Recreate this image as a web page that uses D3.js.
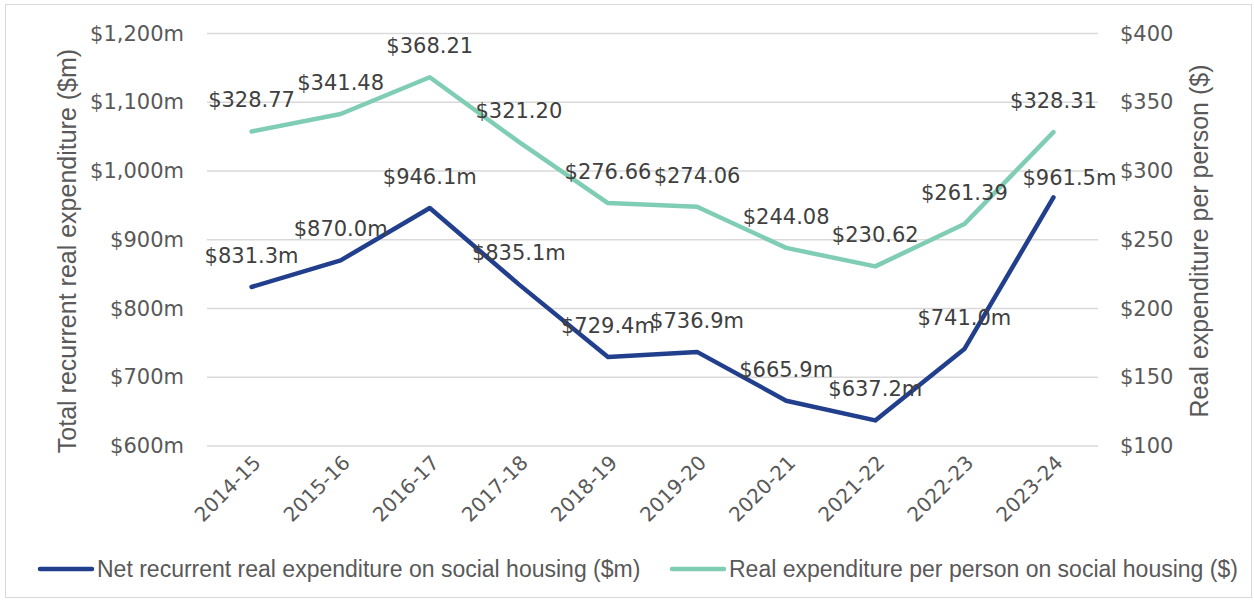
<!DOCTYPE html>
<html>
<head>
<meta charset="utf-8">
<script src="https://cdn.jsdelivr.net/npm/d3@7"></script>
<style>
  body { margin: 0; background: #fff; }
  svg { display: block; }
</style>
</head>
<body>
<script>
const years = ["2014-15", "2015-16", "2016-17", "2017-18", "2018-19",
  "2019-20", "2020-21", "2021-22", "2022-23", "2023-24"];
const netExpenditure = [831.3, 870.0, 946.1, 835.1, 729.4, 736.9, 665.9, 637.2, 741.0, 961.5];
const perPerson = [328.77, 341.48, 368.21, 321.20, 276.66, 274.06, 244.08, 230.62, 261.39, 328.31];
const leftTicks = [600, 700, 800, 900, 1000, 1100, 1200];
const rightTicks = [100, 150, 200, 250, 300, 350, 400];
const seriesNames = [
  "Net recurrent real expenditure on social housing ($m)",
  "Real expenditure per person on social housing ($)"
];

const W = 1254, H = 602;
const plot = { left: 207, right: 1098, top: 33.5, bottom: 446 };
const blue = "#213f8c", green = "#80cdb5";
const numFont = "DejaVu Sans";
const textFont = "Liberation Sans";

const svg = d3.select("body").append("svg")
  .attr("width", W)
  .attr("height", H);

svg.append("rect")
  .attr("x", 5.5).attr("y", 4.5)
  .attr("width", W - 8).attr("height", H - 9)
  .attr("fill", "#fff")
  .attr("stroke", "#d9d9d9");

const x = d3.scalePoint()
  .domain(years)
  .range([plot.left, plot.right])
  .padding(0.5);

const yL = d3.scaleLinear().domain([600, 1200]).range([plot.bottom, plot.top]);
const yR = d3.scaleLinear().domain([100, 400]).range([plot.bottom, plot.top]);

// gridlines
svg.append("g")
  .selectAll("line")
  .data(leftTicks)
  .join("line")
  .attr("x1", plot.left).attr("x2", plot.right)
  .attr("y1", (d) => yL(d)).attr("y2", (d) => yL(d))
  .attr("stroke", "#d9d9d9")
  .attr("stroke-width", 1.5);

// left axis
const leftAxis = svg.append("g")
  .attr("transform", `translate(${plot.left},0)`)
  .call(d3.axisLeft(yL).tickValues(leftTicks)
    .tickSize(0).tickPadding(23)
    .tickFormat((d) => "$" + d3.format(",")(d) + "m"));
leftAxis.select(".domain").remove();
leftAxis.selectAll("text")
  .attr("font-family", numFont).attr("font-size", 21)
  .attr("fill", "#595959");

// right axis
const rightAxis = svg.append("g")
  .attr("transform", `translate(${plot.right},0)`)
  .call(d3.axisRight(yR).tickValues(rightTicks)
    .tickSize(0).tickPadding(22)
    .tickFormat((d) => "$" + d));
rightAxis.select(".domain").remove();
rightAxis.selectAll("text")
  .attr("font-family", numFont).attr("font-size", 21)
  .attr("fill", "#595959");

// x axis
const xAxis = svg.append("g")
  .attr("transform", `translate(0,${plot.bottom})`)
  .call(d3.axisBottom(x).tickSize(0).tickPadding(0));
xAxis.select(".domain").remove();
xAxis.selectAll("text")
  .attr("font-family", numFont).attr("font-size", 20)
  .attr("fill", "#595959")
  .attr("text-anchor", "end")
  .attr("dy", 0)
  .attr("transform", "translate(10,18) rotate(-45)");

// axis titles
svg.append("text")
  .attr("transform", `translate(76,251) rotate(-90)`)
  .attr("text-anchor", "middle")
  .attr("font-family", textFont).attr("font-size", 25)
  .attr("fill", "#595959")
  .text("Total recurrent real expenditure ($m)");

svg.append("text")
  .attr("transform", `translate(1208,241) rotate(-90)`)
  .attr("text-anchor", "middle")
  .attr("font-family", textFont).attr("font-size", 25)
  .attr("fill", "#595959")
  .text("Real expenditure per person ($)");

// lines
const lineL = d3.line().x((d, i) => x(years[i])).y((d) => yL(d));
const lineR = d3.line().x((d, i) => x(years[i])).y((d) => yR(d));

svg.append("path")
  .datum(perPerson)
  .attr("d", lineR)
  .attr("fill", "none")
  .attr("stroke", green)
  .attr("stroke-width", 4.5)
  .attr("stroke-linejoin", "round")
  .attr("stroke-linecap", "round");

svg.append("path")
  .datum(netExpenditure)
  .attr("d", lineL)
  .attr("fill", "none")
  .attr("stroke", blue)
  .attr("stroke-width", 4.5)
  .attr("stroke-linejoin", "round")
  .attr("stroke-linecap", "round");

// data labels (last blue label was nudged in the original)
const nudgeNet = { 9: [16, 12] };

svg.append("g")
  .selectAll("text")
  .data(perPerson)
  .join("text")
  .attr("x", (d, i) => x(years[i]))
  .attr("y", (d) => yR(d) - 24)
  .attr("text-anchor", "middle")
  .attr("font-family", numFont).attr("font-size", 21)
  .attr("fill", "#404040")
  .text((d) => "$" + d3.format(".2f")(d));

svg.append("g")
  .selectAll("text")
  .data(netExpenditure)
  .join("text")
  .attr("x", (d, i) => x(years[i]) + (nudgeNet[i] ? nudgeNet[i][0] : 0))
  .attr("y", (d, i) => yL(d) - 24 + (nudgeNet[i] ? nudgeNet[i][1] : 0))
  .attr("text-anchor", "middle")
  .attr("font-family", numFont).attr("font-size", 21)
  .attr("fill", "#404040")
  .text((d) => "$" + d3.format(".1f")(d) + "m");

// legend
const legend = svg.append("g");
const legendItems = [
  { name: seriesNames[0], color: blue, x: 40 },
  { name: seriesNames[1], color: green, x: 672 }
];
legendItems.forEach((item) => {
  legend.append("line")
    .attr("x1", item.x).attr("x2", item.x + 52)
    .attr("y1", 569).attr("y2", 569)
    .attr("stroke", item.color)
    .attr("stroke-width", 4.5)
    .attr("stroke-linecap", "round");
  legend.append("text")
    .attr("x", item.x + 57).attr("y", 577)
    .attr("font-family", textFont).attr("font-size", 23)
    .attr("fill", "#595959")
    .text(item.name);
});
</script>
</body>
</html>
